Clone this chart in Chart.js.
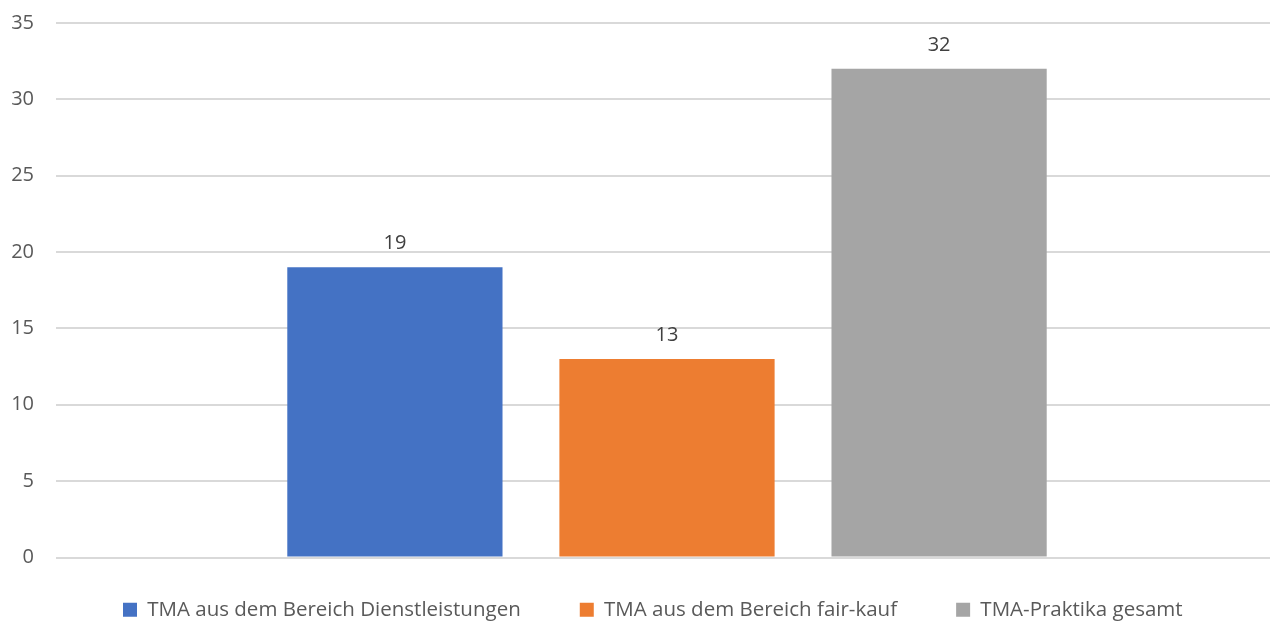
<!DOCTYPE html>
<html>
<head>
<meta charset="utf-8">
<script src="https://cdn.jsdelivr.net/npm/chart.js@4"></script>
<style>
  html, body { margin: 0; padding: 0; background: #fff; overflow: hidden; }
  #wrap { width: 1270px; height: 622px; overflow: hidden; }
</style>
</head>
<body>
<div id="wrap"><canvas id="chart" width="1278" height="622"></canvas></div>
<script>
const categories = [""];
const seriesNames = [
  "TMA aus dem Bereich Dienstleistungen",
  "TMA aus dem Bereich fair-kauf",
  "TMA-Praktika gesamt"
];
const seriesValues = [[19], [13], [32]];
const seriesColors = ["#4472c4", "#ed7d31", "#a5a5a5"];

const fontFamily = "'Open Sans', 'Liberation Sans', sans-serif";

// Draw value labels above each bar
const valueLabels = {
  id: "valueLabels",
  afterDatasetsDraw(chart) {
    const ctx = chart.ctx;
    ctx.save();
    ctx.font = "20px " + fontFamily;
    ctx.fillStyle = "#404040";
    ctx.textAlign = "center";
    ctx.textBaseline = "alphabetic";
    chart.data.datasets.forEach((ds, i) => {
      chart.getDatasetMeta(i).data.forEach((bar, j) => {
        ctx.fillText(ds.data[j], bar.x, bar.y - 18);
      });
    });
    ctx.restore();
  }
};

// Move the legend so it starts where the reference one does
const legendShift = {
  id: "legendShift",
  afterLayout(chart) {
    chart.legend.left = 123 - 42;
  }
};

new Chart(document.getElementById("chart").getContext("2d"), {
  type: "bar",
  data: {
    labels: categories,
    datasets: seriesNames.map((name, i) => ({
      label: name,
      data: seriesValues[i],
      backgroundColor: seriesColors[i],
      categoryPercentage: 0.668,
      barPercentage: 0.791
    }))
  },
  options: {
    responsive: false,
    animation: false,
    layout: { padding: { top: 0, right: 0, left: 0, bottom: -8 } },
    plugins: {
      legend: {
        position: "bottom",
        align: "start",
        labels: {
          color: "#595959",
          font: { family: fontFamily, size: 20.5 },
          boxWidth: 14,
          boxHeight: 14,
          padding: 42,
          generateLabels(chart) {
            const items = Chart.defaults.plugins.legend.labels.generateLabels(chart);
            items.forEach((it, i) => {
              if (i < items.length - 1) it.text += "\u2002\u2009\u2009";
            });
            return items;
          }
        }
      },
      tooltip: { enabled: false }
    },
    scales: {
      x: {
        display: false
      },
      y: {
        min: 0,
        max: 35,
        ticks: {
          stepSize: 5,
          color: "#595959",
          font: { family: fontFamily, size: 20 },
          padding: 22
        },
        grid: { color: "#d9d9d9", lineWidth: 2, drawTicks: false },
        border: { display: false },
        afterFit(scale) {
          scale.width = 56;
          scale.paddingTop = 23;
          scale.paddingBottom = 0;
        }
      }
    }
  },
  plugins: [valueLabels, legendShift]
});
</script>
</body>
</html>
